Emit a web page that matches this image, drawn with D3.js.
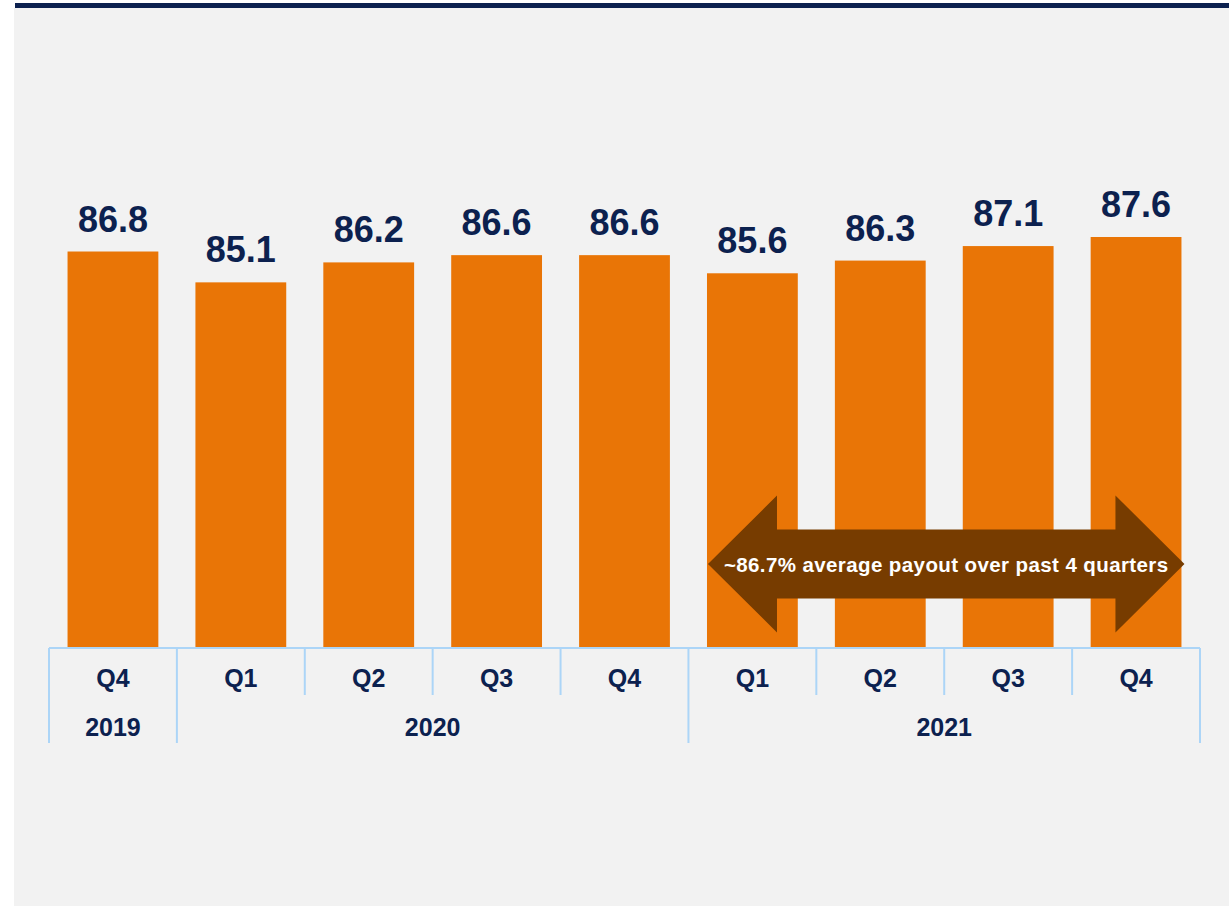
<!DOCTYPE html>
<html><head><meta charset="utf-8">
<script src="https://cdn.jsdelivr.net/npm/d3@7"></script>
<style>html,body{margin:0;padding:0;background:#fff;}svg{display:block;}</style>
</head><body>
<svg id="chart" width="1229" height="909"></svg>
<script>
const quarters = ["Q4","Q1","Q2","Q3","Q4","Q1","Q2","Q3","Q4"];
const years = ["2019","2020","2020","2020","2020","2021","2021","2021","2021"];
const payout = [86.8, 85.1, 86.2, 86.6, 86.6, 85.6, 86.3, 87.1, 87.6];
const yearGroups = [{year:"2019", from:0, to:0},{year:"2020", from:1, to:4},{year:"2021", from:5, to:8}];
const arrowText = "~86.7% average payout over past 4 quarters";
const arrowFrom = 5, arrowTo = 8;

const navy = "#0c214f", orange = "#e97506", brown = "#773c00", axisBlue = "#acd5f7";
const svg = d3.select("#chart");
svg.append("rect").attr("x",14).attr("y",8).attr("width",1215).attr("height",898).attr("fill","#f2f2f2");
svg.append("rect").attr("x",15).attr("y",3).attr("width",1214).attr("height",5).attr("fill",navy);

const idx = d3.range(payout.length);
const x = d3.scaleBand().domain(idx).range([49,1200]).paddingInner(0.29).paddingOuter(0.145);
const xc = d3.scaleBand().domain(idx).range([49,1200]).padding(0);
const y = d3.scaleLinear().domain([65, 87.6]).range([647, 237]);

svg.selectAll("rect.bar").data(payout).enter().append("rect").attr("class","bar")
  .attr("x",(d,i)=>x(i)).attr("width",x.bandwidth())
  .attr("y",d=>y(d)).attr("height",d=>y.range()[0]-y(d)).attr("fill",orange);

svg.selectAll("text.val").data(payout).enter().append("text").attr("class","val")
  .attr("x",(d,i)=>x(i)+x.bandwidth()/2).attr("y",d=>y(d)-20)
  .attr("text-anchor","middle").attr("font-family","Liberation Sans, Arial, sans-serif")
  .attr("font-weight","bold").attr("font-size",36).attr("fill",navy).text(d=>d.toFixed(1));

// axis frame
const g = svg.append("g").attr("stroke",axisBlue).attr("stroke-width",2);
g.append("line").attr("x1",xc.range()[0]).attr("x2",xc.range()[1]).attr("y1",648).attr("y2",648);
const bounds = d3.range(payout.length+1);
const yearEdges = new Set([0]); yearGroups.forEach(gp=>yearEdges.add(gp.to+1));
bounds.forEach(b=>{
  const xx = b<payout.length ? xc(b) : xc.range()[1];
  g.append("line").attr("x1",xx).attr("x2",xx).attr("y1",648).attr("y2",yearEdges.has(b)?743:695);
});

svg.selectAll("text.q").data(quarters).enter().append("text").attr("class","q")
  .attr("x",(d,i)=>xc(i)+xc.bandwidth()/2).attr("y",687)
  .attr("text-anchor","middle").attr("font-family","Liberation Sans, Arial, sans-serif")
  .attr("font-weight","bold").attr("font-size",25).attr("fill",navy).text(d=>d);

svg.selectAll("text.yr").data(yearGroups).enter().append("text").attr("class","yr")
  .attr("x",d=>(xc(d.from)+xc(d.to)+xc.bandwidth())/2).attr("y",736)
  .attr("text-anchor","middle").attr("font-family","Liberation Sans, Arial, sans-serif")
  .attr("font-weight","bold").attr("font-size",25).attr("fill",navy).text(d=>d.year);

// double arrow
const ax0 = x(arrowFrom) + 1, ax1 = x(arrowTo) + x.bandwidth() + 3;
const cy = 564, headW = 69, shaftH = 34.5, headH = 68.5;
const pts = [[ax0,cy],[ax0+headW,cy-headH],[ax0+headW,cy-shaftH],[ax1-headW,cy-shaftH],[ax1-headW,cy-headH],[ax1,cy],
  [ax1-headW,cy+headH],[ax1-headW,cy+shaftH],[ax0+headW,cy+shaftH],[ax0+headW,cy+headH]];
svg.append("path").attr("d", d3.line()(pts)+"Z").attr("fill",brown);
svg.append("text").attr("x",(ax0+ax1)/2).attr("y",cy+8).attr("text-anchor","middle")
  .attr("font-family","Liberation Sans, Arial, sans-serif").attr("font-weight","bold")
  .attr("font-size",20.5).attr("letter-spacing",0.4).attr("fill","#fff").text(arrowText);
</script>
</body></html>
